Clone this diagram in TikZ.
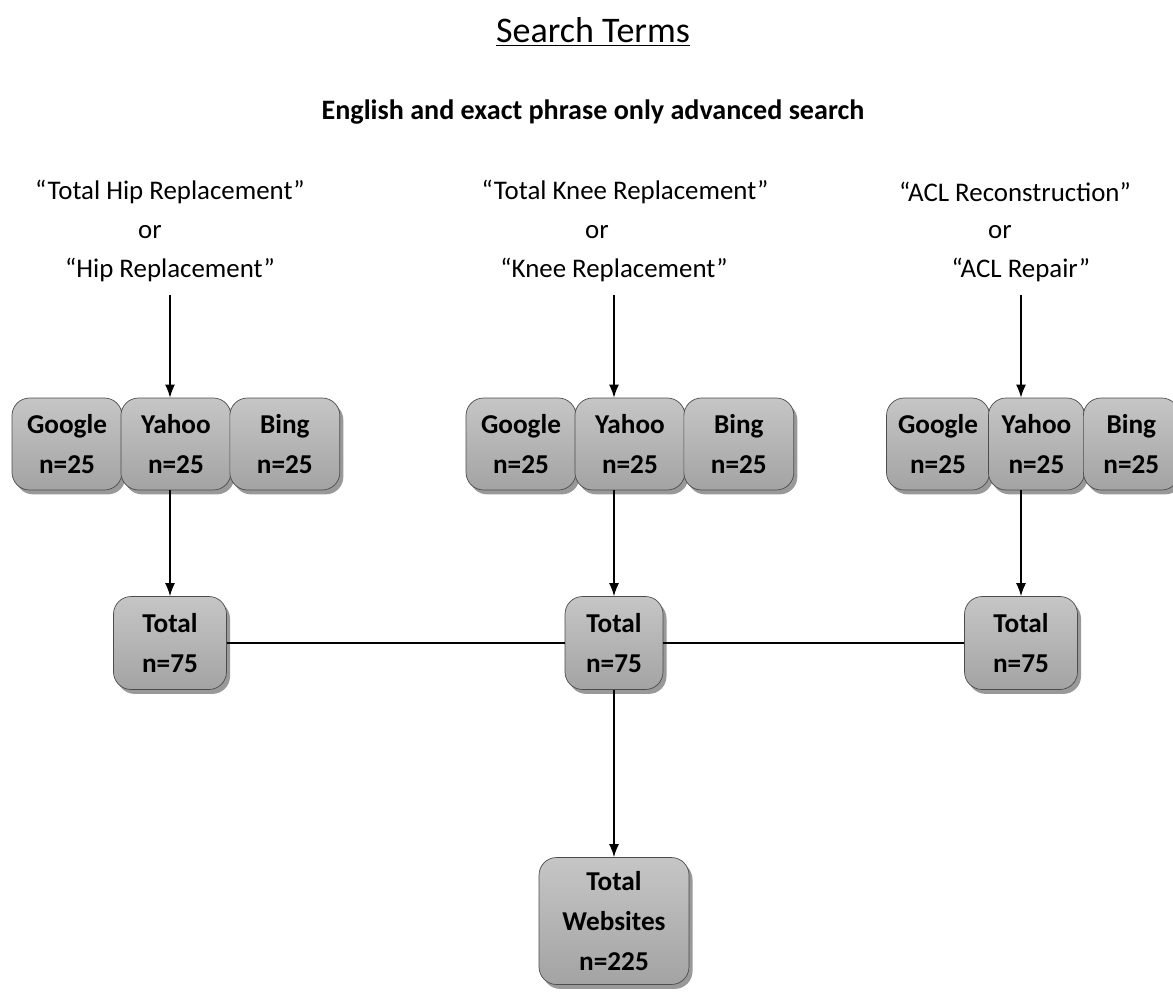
\documentclass[tikz,border=0pt]{standalone}
\usepackage{fontspec}
\setmainfont{Carlito}
\usepackage{tikz}
\usetikzlibrary{arrows.meta,positioning,shadows}
\tikzset{
engine/.style={draw=black!70,rounded corners=10pt,top color=gray!45,bottom color=gray!72,align=center,minimum height=1.84cm,minimum width=2.2cm,inner sep=1pt,font=\fontsize{15.5}{22.5}\selectfont\bfseries,drop shadow={shadow xshift=2pt,shadow yshift=-2.5pt,opacity=.8}},
total/.style={engine,minimum width=2.26cm,minimum height=1.86cm},
term/.style={font=\fontsize{15.3}{17}\selectfont,inner sep=1pt},
arrow/.style={-{Latex[length=2.6mm,width=2mm]},line width=.8pt},
link/.style={line width=.8pt}
}
\begin{document}
\begin{tikzpicture}[x=0.02cm,y=-0.02cm]
\useasboundingbox (0,0) rectangle (1173,991);

\node[font=\fontsize{20.5}{24}\selectfont] (title) at (593,32) {\underline{Search Terms}};
\node[font=\fontsize{16}{18}\selectfont\bfseries] (sub) at (593,112) {English and exact phrase only advanced search};

\node[term] (hip1) at (170,192) {“Total Hip Replacement”};
\node[term] (hipor) at (150,232) {or};
\node[term] (hip2) at (170,270) {“Hip Replacement”};
\node[term] (knee1) at (625,192) {“Total Knee Replacement”};
\node[term] (kneeor) at (597,232) {or};
\node[term] (knee2) at (614,270) {“Knee Replacement”};
\node[term] (acl1) at (1015,192) {“ACL Reconstruction”};
\node[term] (aclor) at (1000,232) {or};
\node[term] (acl2) at (1021,270) {“ACL Repair”};

\node[engine] (hipg) at (67,444) {Google\\n=25};
\node[engine,right=-1pt of hipg] (hipy) {Yahoo\\n=25};
\node[engine,right=-1pt of hipy] (hipb) {Bing\\n=25};

\node[engine] (kneeg) at (521,444) {Google\\n=25};
\node[engine,right=-1pt of kneeg] (kneey) {Yahoo\\n=25};
\node[engine,right=-1pt of kneey] (kneeb) {Bing\\n=25};

\node[engine,minimum width=2.06cm] (aclg) at (938,444) {Google\\n=25};
\node[engine,minimum width=1.92cm,right=-1pt of aclg] (acly) {Yahoo\\n=25};
\node[engine,minimum width=1.92cm,right=-1pt of acly] (aclb) {Bing\\n=25};

\node[total] (hiptot) at (170,643) {Total\\n=75};
\node[total,minimum width=1.96cm] (kneetot) at (614,643) {Total\\n=75};
\node[total] (acltot) at (1021,643) {Total\\n=75};

\node[total,minimum width=3cm,minimum height=2.54cm] (web) at (614,921) {Total\\Websites\\n=225};

\draw[arrow] ([yshift=-6pt]hip2.south) -- (hip2.south |- hipy.north);
\draw[arrow] ([yshift=-6pt]knee2.south) -- (knee2.south |- kneey.north);
\draw[arrow] ([yshift=-6pt]acl2.south) -- (acl2.south |- acly.north);

\draw[arrow] (hipy.south -| hiptot) -- (hiptot);
\draw[arrow] (kneey.south -| kneetot) -- (kneetot);
\draw[arrow] (acly.south -| acltot) -- (acltot);

\draw[link] (hiptot) -- (kneetot);
\draw[link] (kneetot) -- (acltot);

\draw[arrow] (kneetot) -- (web);
\end{tikzpicture}
\end{document}
